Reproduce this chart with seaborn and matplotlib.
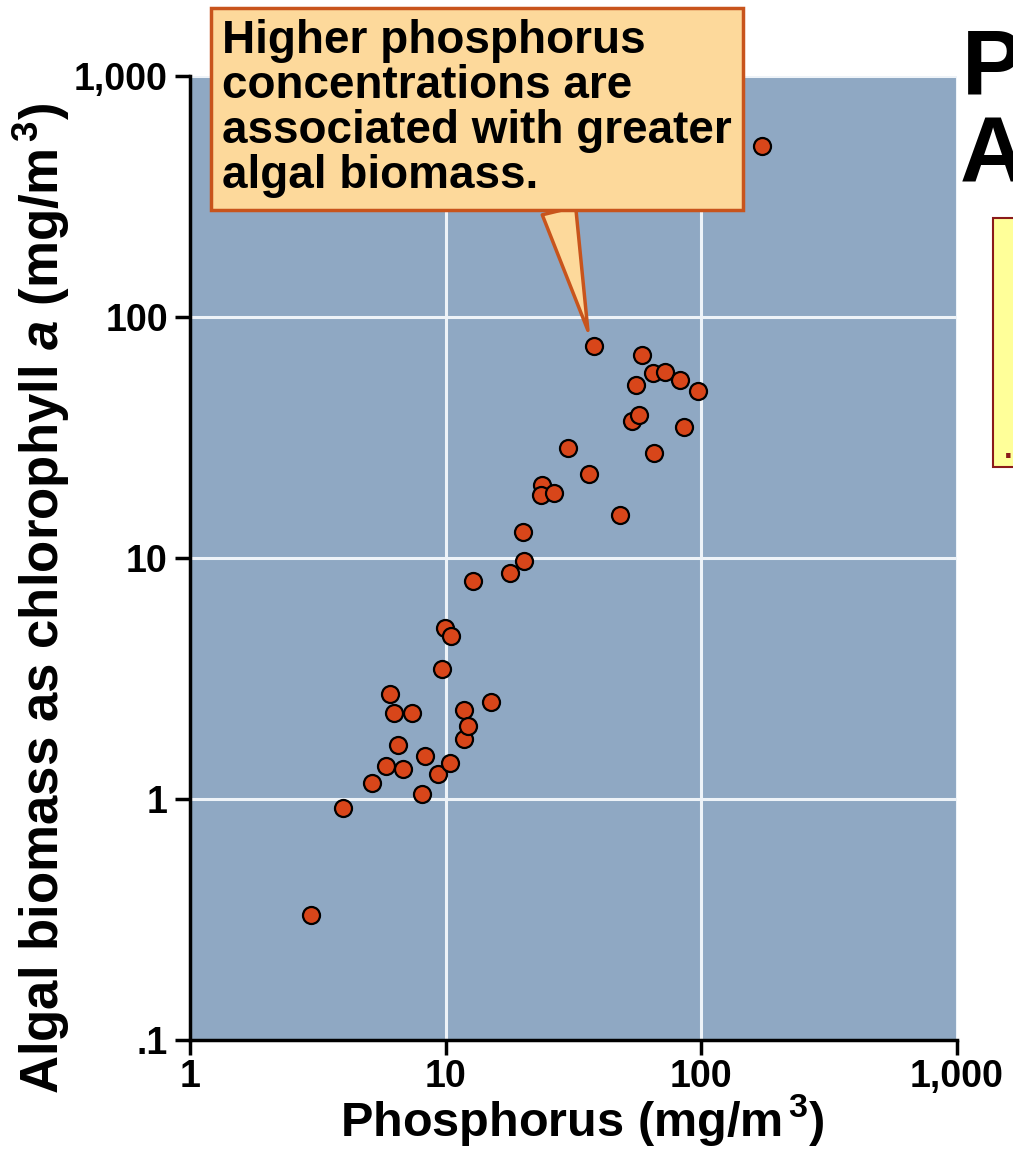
import numpy as np
import pandas as pd
import seaborn as sns
import matplotlib.pyplot as plt
from matplotlib.patches import Rectangle

sns.set_theme(style="darkgrid")
plt.rcParams["font.family"] = ["Liberation Sans", "DejaVu Sans"]
plt.rcParams["font.weight"] = "bold"
plt.rcParams["mathtext.fontset"] = "custom"
plt.rcParams["mathtext.it"] = "Liberation Sans:italic:bold"
plt.rcParams["mathtext.rm"] = "Liberation Sans:bold"

# Lake data (mg/m3)
phosphorus = [2.97, 3.97, 5.15, 5.84, 6.05, 6.28, 6.51, 6.81, 7.38, 8.08,
              8.30, 9.33, 9.67, 9.94, 10.5, 10.4, 11.8, 11.8, 12.2, 15.0,
              12.8, 17.8, 20.2, 20.0, 23.8, 23.6, 26.5, 30.1, 36.3, 38.0,
              48.1, 53.6, 55.5, 57.0, 58.6, 64.7, 65.3, 72.0, 82.5, 85.5,
              97.0, 172.6]
chlorophyll = [0.33, 0.92, 1.16, 1.37, 2.72, 2.27, 1.67, 1.33, 2.27, 1.05,
               1.51, 1.27, 3.45, 5.11, 4.73, 1.41, 2.34, 1.77, 2.0, 2.52,
               8.0, 8.63, 9.68, 12.8, 20.0, 18.3, 18.6, 28.7, 22.4, 75.9,
               15.1, 37.1, 52.3, 39.3, 69.6, 58.6, 27.3, 59.2, 54.8, 35.1,
               49.4, 511.0]
lakes = pd.DataFrame({"phosphorus": phosphorus, "chlorophyll": chlorophyll})

x_ticks = [1, 10, 100, 1000]
x_tick_labels = ["1", "10", "100", "1,000"]
y_ticks = [0.1, 1, 10, 100, 1000]
y_tick_labels = [".1", "1", "10", "100", "1,000"]

fig = plt.figure(figsize=(10.13, 11.51), dpi=100)
fig.patch.set_facecolor("white")
ax = fig.add_axes([190/1013, 1 - 1040/1151, 767/1013, 964/1151])
ax.set_facecolor("#8fa8c3")

sns.scatterplot(data=lakes, x="phosphorus", y="chlorophyll", ax=ax,
                s=150, color="#d8461a", edgecolor="black", linewidth=1.6,
                zorder=3, legend=False)

ax.set_xscale("log")
ax.set_yscale("log")
ax.set_xlim(1, 1000)
ax.set_ylim(0.1, 1000)
ax.set_xticks(x_ticks, x_tick_labels)
ax.set_yticks(y_ticks, y_tick_labels)
ax.minorticks_off()
ax.grid(True, color="#eef3f8", linewidth=2.2)

for side in ["top", "right"]:
    ax.spines[side].set_visible(False)
for side in ["left", "bottom"]:
    ax.spines[side].set_visible(True)
    ax.spines[side].set_color("black")
    ax.spines[side].set_linewidth(2.5)
ax.tick_params(axis="both", which="major", direction="out", length=11, width=2.5,
               color="black", labelsize=27, pad=5, labelcolor="black",
               left=True, bottom=True)
ax.tick_params(axis="x", pad=3)
for lab in ax.get_xticklabels() + ax.get_yticklabels():
    lab.set_fontweight("bold")

ax.set_xlabel(r"Phosphorus (mg/m$^{\mathrm{\,3}}$)", fontsize=35, fontweight="bold", color="black")
ax.xaxis.set_label_coords(0.511, -0.054)
ax.set_ylabel(r"Algal biomass as chlorophyll $a$ (mg/m$^{\mathrm{\,3}}$)", fontsize=38,
              fontweight="bold", color="black")
ax.yaxis.set_label_coords(-0.154, 0.458)

# Callout box
ax.annotate("Higher phosphorus\nconcentrations are\nassociated with greater\nalgal biomass.",
            xy=(36, 88), xycoords="data",
            xytext=(222/1013, 1 - 19/1151), textcoords="figure fraction",
            ha="left", va="top", fontsize=33, fontweight="bold", color="black",
            linespacing=1.03,
            bbox=dict(boxstyle="square,pad=0.25", fc="#fdd99b", ec="#c8541c", lw=2.5),
            arrowprops=dict(arrowstyle="wedge,tail_width=0.75,shrink_factor=0.5",
                            fc="#fdd99b", ec="#c8541c", lw=2.5, relpos=(0.655, 0.0),
                            shrinkA=0, shrinkB=0),
            annotation_clip=False, zorder=5)

# Cropped title letters and box at right edge
fig.text(962/1013, 1 - 95/1151, "P", fontsize=66, fontweight="bold", color="black",
         ha="left", va="baseline")
fig.text(960/1013, 1 - 182/1151, "A", fontsize=66, fontweight="bold", color="black",
         ha="left", va="baseline")
fig.patches.append(Rectangle((993/1013, 1 - 467/1151), 40/1013, 249/1151,
                             transform=fig.transFigure, fc="#ffff99", ec="#8b1a1a",
                             lw=1.5, zorder=1))
fig.text(1004/1013, 1 - 458/1151, ".", fontsize=22, fontweight="bold", color="#8b1a1a",
         ha="left", va="baseline")

fig.savefig("out.png", dpi=100)
